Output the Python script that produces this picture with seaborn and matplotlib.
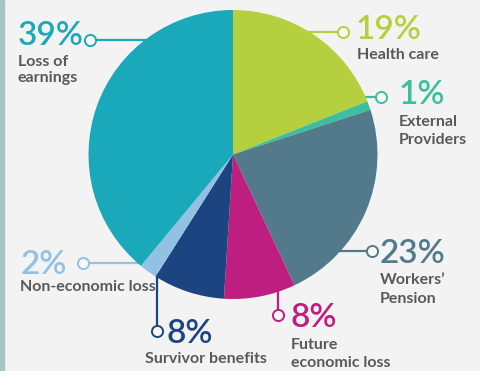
import matplotlib
matplotlib.use("Agg")
import matplotlib.pyplot as plt
import numpy as np
import pandas as pd
import seaborn as sns
from matplotlib.patches import Rectangle

# Shares of claim costs, clockwise from 12 o'clock
categories = ["Health care", "External\nProviders", "Workers’\nPension",
              "Future\neconomic loss", "Survivor benefits", "Non-economic loss",
              "Loss of\nearnings"]
shares = [19, 1, 23, 8, 8, 2, 39]
pct_labels = ["19%", "1%", "23%", "8%", "8%", "2%", "39%"]
colors = ["#b6cf3f", "#3bbf9f", "#527a8a", "#bd1e80", "#1c4480", "#93c1e4", "#1aa9bb"]

# Label layout in pixel units (y measured from the top):
# marker circle, connector orientation, percent baseline, category baselines
layout = [
    dict(dot=(343, 32), orient="h", pct=(356, 39), cat=(357, [59])),
    dict(dot=(381, 97), orient="h", pct=(399, 104), cat=(399, [126, 144])),
    dict(dot=(372, 251), orient="h", pct=(380, 263), cat=(380, [284, 303])),
    dict(dot=(278, 315), orient="v", pct=(291, 327), cat=(291, [349, 367])),
    dict(dot=(157, 331), orient="v", pct=(167, 343), cat=(145, [363])),
    dict(dot=(83, 263), orient="h", pct=(21, 274), cat=(20, [291])),
    dict(dot=(90, 40), orient="h", pct=(18, 45), cat=(18, [66, 82])),
]

sns.set_theme(style="white")
plt.rcParams["font.family"] = ["Lato", "DejaVu Sans"]

W, H = 480, 371
BG = "#f3f3f3"
fig = plt.figure(figsize=(W / 100, H / 100), dpi=100, facecolor=BG)
ax = fig.add_axes([0, 0, 1, 1])
ax.set_facecolor(BG)

df = pd.DataFrame({"category": categories, "share": shares,
                   "label": pct_labels, "color": colors})

cx, cy, r = 233.0, 154.5, 144.5
ax.pie(df["share"], colors=df["color"], startangle=90, counterclock=False,
       center=(cx, H - cy), radius=r, frame=True,
       wedgeprops=dict(linewidth=0))
ax.set_xlim(0, W)
ax.set_ylim(0, H)
ax.set_aspect("equal")
ax.axis("off")

# thin accent strip on the left edge
ax.add_patch(Rectangle((0, 0), 3.5, H, color="#a9c4c7", zorder=5, clip_on=False))

text_grey = "#59595b"
for (_, row), lay in zip(df.iterrows(), layout):
    dx, dy = lay["dot"]
    if lay["orient"] == "h":
        half = np.sqrt(max(r ** 2 - (dy - cy) ** 2, 0))
        ex = cx + half - 5 if dx > cx else cx - half + 5
        xs, ys = [dx, ex], [H - dy, H - dy]
    else:
        half = np.sqrt(max(r ** 2 - (dx - cx) ** 2, 0))
        ey = cy + half - 5
        xs, ys = [dx, dx], [H - dy, H - ey]
    ax.plot(xs, ys, color=row["color"], lw=1.6, zorder=0.5, solid_capstyle="butt")
    ax.plot([dx], [H - dy], marker="o", ms=8, mfc="#f8f8f8",
            mec=row["color"], mew=1.4, zorder=4)

    px, py = lay["pct"]
    ax.text(px, H - py, row["label"], color=row["color"], fontsize=24,
            fontweight=600, ha="left", va="baseline", zorder=6)
    tx, baselines = lay["cat"]
    for line, b in zip(row["category"].split("\n"), baselines):
        ax.text(tx, H - b, line, color=text_grey, fontsize=11.5,
                fontweight="bold", ha="left", va="baseline", zorder=6)

fig.savefig("out.png", dpi=100, facecolor=BG)
